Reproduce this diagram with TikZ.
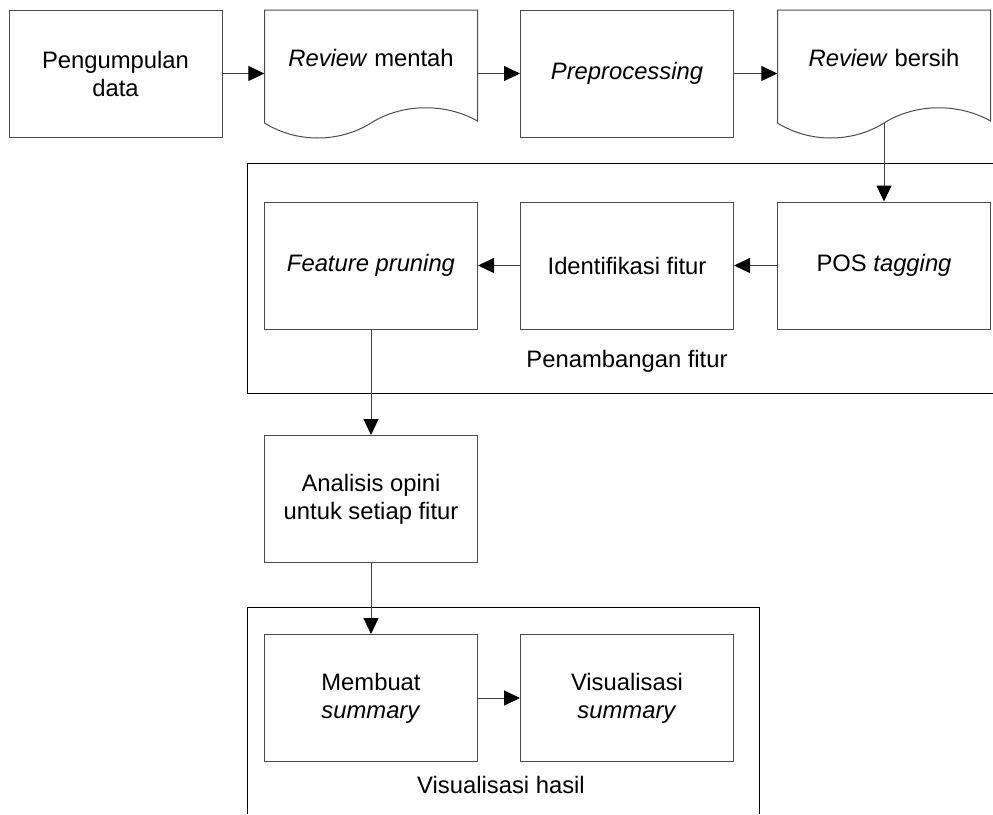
\documentclass[tikz,border=0pt]{standalone}
\usepackage{fontspec}
\setmainfont{Liberation Sans}
\usetikzlibrary{arrows.meta}
\newcommand\docoutline[1]{%
  \draw[docline] (#1,123) -- (#1,10) -- ({#1+213},10) -- ({#1+213},121)
    .. controls ({#1+181.05},103) and ({#1+138.45},103) .. ({#1+106.5},123)
    .. controls ({#1+74.55},143) and ({#1+31.95},143) .. (#1,123) -- cycle;}
\begin{document}
\begin{tikzpicture}[x=1pt,y=-1pt,
  font=\fontsize{23.8}{28}\selectfont,
  box/.style={draw=black!70,line width=1pt,minimum width=213pt,minimum height=127pt,inner sep=0pt,align=center},
  docbox/.style={minimum width=213pt,minimum height=127pt,inner sep=0pt},
  docline/.style={draw=black!70,line width=1pt,line join=miter},
  doctext/.style={inner sep=0pt,align=center},
  conn/.style={draw=black!75,line width=1pt,-{Triangle[length=16pt,width=15pt,color=black]}},
  frame/.style={draw=black,line width=1pt},
  lbl/.style={inner sep=0pt}]
\useasboundingbox (0,0) rectangle (993,814);

% containers
\draw[frame] (993,163) -- (247,163) -- (247,393) -- (993,393);
\draw[frame] (247,814) -- (247,607) -- (759,607) -- (759,814);

% top row
\node[box] (pd) at (115.5,73.5) {Pengumpulan\\data};
\node[docbox] (rm) at (371,73.5) {};
\docoutline{264.5}
\node[doctext] (rmt) at (371,58) {\textit{Review} mentah};
\node[box] (pp) at (627,73.5) {\textit{Preprocessing}};
\node[docbox] (rb) at (884,73.5) {};
\docoutline{777.5}
\node[doctext] (rbt) at (884,58) {\textit{Review} bersih};
\coordinate (rbw) at (884,123);

% mining row
\node[box] (fp) at (371,265.5) {\textit{Feature pruning}};
\node[box] (if) at (627,265.5) {Identifikasi fitur};
\node[box] (pos) at (884,265.5) {POS \textit{tagging}};
\node[lbl,anchor=base] (l1) at (627,367) {Penambangan fitur};

% analysis
\node[box] (an) at (371,499) {Analisis opini\\untuk setiap fitur};

% visualisation
\node[box] (ms) at (371,698) {Membuat\\\textit{summary}};
\node[box] (vs) at (627,698) {Visualisasi\\\textit{summary}};
\node[lbl,anchor=base] (l2) at (501,793) {Visualisasi hasil};

% connectors
\draw[conn] (pd) -- (rm);
\draw[conn] (rm) -- (pp);
\draw[conn] (pp) -- (rb);
\draw[conn] (rbw) -- (pos);
\draw[conn] (pos) -- (if);
\draw[conn] (if) -- (fp);
\draw[conn] (fp) -- (an);
\draw[conn] (an) -- (ms);
\draw[conn] (ms) -- (vs);
\end{tikzpicture}
\end{document}
